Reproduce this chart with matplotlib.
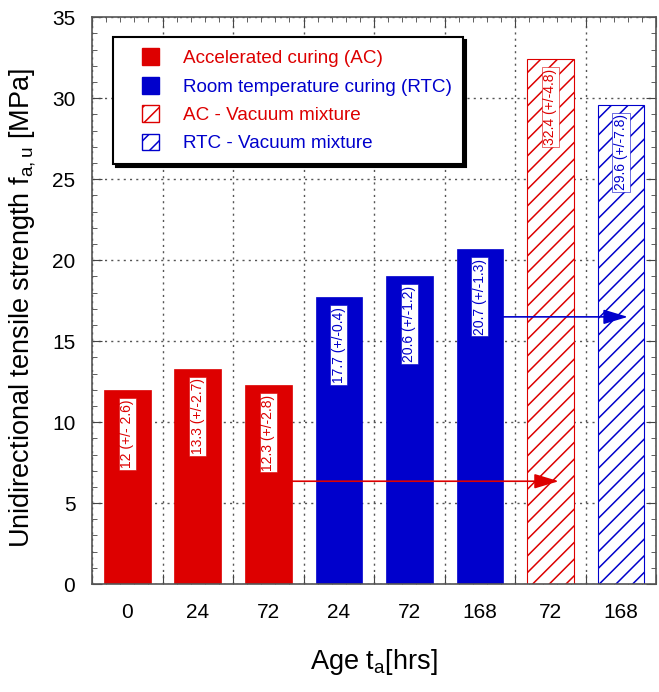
import matplotlib
matplotlib.use("Agg")
import matplotlib.pyplot as plt
from matplotlib.patches import Patch, Rectangle
from matplotlib.legend_handler import HandlerPatch
from matplotlib.ticker import FixedLocator, MultipleLocator

plt.rcParams["font.family"] = ["Liberation Sans", "DejaVu Sans"]
plt.rcParams["mathtext.fontset"] = "custom"
plt.rcParams["mathtext.rm"] = "Liberation Sans"
plt.rcParams["mathtext.it"] = "Liberation Sans"
plt.rcParams["hatch.linewidth"] = 1.1

# data
tick_labels = ["0", "24", "72", "24", "72", "168", "72", "168"]
heights = [12.0, 13.3, 12.3, 17.7, 19.0, 20.7, 32.4, 29.6]
bar_texts = ["12 (+/- 2.6)", "13.3 (+/-2.7)", "12.3 (+/-2.8)", "17.7 (+/-0.4)",
             "20.6 (+/-1.2)", "20.7 (+/-1.3)", "32.4 (+/-4.8)", "29.6 (+/-7.8)"]
groups = ["AC", "AC", "AC", "RTC", "RTC", "RTC", "AC-V", "RTC-V"]
legend_labels = ["Accelerated curing (AC)", "Room temperature curing (RTC)",
                 "AC - Vacuum mixture", "RTC - Vacuum mixture"]
# arrows: (from bar, to x, level)
arrow_from = [2, 5]
arrow_to = [6.12, 7.10]
arrow_level = [6.35, 16.5]

RED = "#dd0000"
BLUE = "#0000cc"
style = {
    "AC": dict(color=RED, fill=True),
    "RTC": dict(color=BLUE, fill=True),
    "AC-V": dict(color=RED, fill=False),
    "RTC-V": dict(color=BLUE, fill=False),
}


def square_right(legend, orig_handle, xdescent, ydescent, width, height, fontsize):
    # square legend key pushed to the right end of the handle area
    return Rectangle((-xdescent + width - height, -ydescent), height, height)


fig = plt.figure(figsize=(6.59, 6.92), dpi=100)
ax = fig.add_axes([0.1396, 0.156, 0.856, 0.819])

width = 0.66
for i, (h, g) in enumerate(zip(heights, groups)):
    s = style[g]
    if s["fill"]:
        ax.bar(i, h, width, color=s["color"], edgecolor=s["color"], lw=0.5, zorder=2)
    else:
        ax.bar(i, h, width, facecolor="white", edgecolor=s["color"], hatch="//",
               lw=0.8, zorder=2)
    ax.annotate(bar_texts[i], xy=(i, h), xytext=(0, -7), textcoords="offset points",
                rotation=90, ha="center", va="top", fontsize=10, color=s["color"],
                bbox=dict(boxstyle="square,pad=0.12", facecolor="white",
                          edgecolor=s["color"], lw=0.4), zorder=4)

for b, xt, lv in zip(arrow_from, arrow_to, arrow_level):
    c = style[groups[b]]["color"]
    ax.annotate("", xy=(xt, lv), xytext=(b + width / 2, lv),
                arrowprops=dict(arrowstyle="-|>,head_length=1.0,head_width=0.3",
                                mutation_scale=15, color=c, lw=1.2,
                                shrinkA=0, shrinkB=0), zorder=5)

ax.set_xlim(-0.5, len(heights) - 0.5)
ax.set_ylim(0, 35)

ax.xaxis.set_major_locator(FixedLocator([i + 0.5 for i in range(-1, len(heights))]))
ax.xaxis.set_minor_locator(MultipleLocator(0.2, offset=0.1))
ax.set_xticklabels([])
ax.yaxis.set_major_locator(MultipleLocator(5))
ax.yaxis.set_minor_locator(MultipleLocator(1))
ax.tick_params(which="both", direction="in", top=True, right=True, color="#444444")
ax.tick_params(which="major", length=7, labelsize=15)
ax.tick_params(which="minor", length=3.5)
ax.tick_params(axis="y", pad=12)
for i, lab in enumerate(tick_labels):
    ax.text(i, -0.033, lab, transform=ax.get_xaxis_transform(), ha="center", va="top",
            fontsize=15)

ax.grid(True, which="major", color="#555555", linestyle=(0, (1.5, 3)), lw=1, zorder=0)
ax.set_axisbelow(True)
for sp in ax.spines.values():
    sp.set_color("#555555")
    sp.set_linewidth(1.2)

ax.set_ylabel(r"Unidirectional tensile strength f$_{\mathrm{a,u}}$ [MPa]", fontsize=19.5)
ax.yaxis.set_label_coords(-0.095, 0.487)
ax.set_xlabel(r"Age t$_\mathrm{a}$[hrs]", fontsize=19.5, labelpad=42)

handles = [
    Patch(facecolor=RED, edgecolor=RED),
    Patch(facecolor=BLUE, edgecolor=BLUE),
    Patch(facecolor="white", edgecolor=RED, hatch="//"),
    Patch(facecolor="white", edgecolor=BLUE, hatch="//"),
]
leg = ax.legend(handles, legend_labels, loc="upper left", bbox_to_anchor=(0.037, 0.965),
                borderaxespad=0, fontsize=13.6, labelcolor=[RED, BLUE, RED, BLUE],
                handlelength=1.85, handleheight=1.0, handletextpad=1.25,
                borderpad=0.6, labelspacing=0.5, fancybox=False,
                shadow={"color": "black", "alpha": 1}, framealpha=1,
                edgecolor="black",
                handler_map={Patch: HandlerPatch(patch_func=square_right)})
leg.get_frame().set_linewidth(1.5)
leg.set_zorder(6)

fig.savefig("out.png", dpi=100)
